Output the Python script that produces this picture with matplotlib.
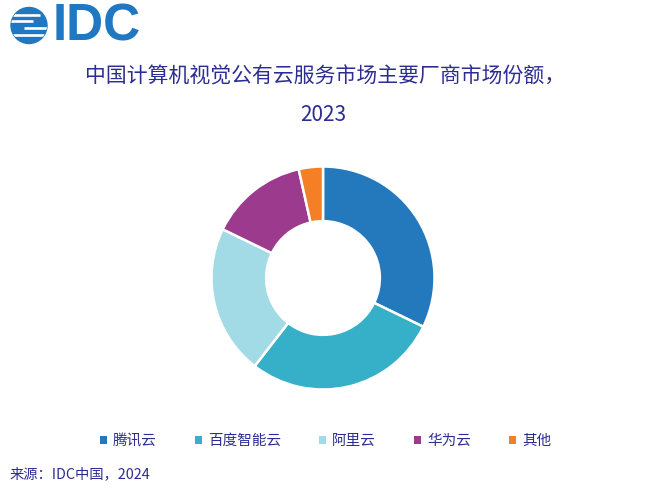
import matplotlib
matplotlib.use('Agg')
import matplotlib.pyplot as plt
from matplotlib.patches import Circle, Patch

plt.rcParams['font.family'] = ['Noto Sans CJK SC', 'DejaVu Sans']

vendors = ['腾讯云', '百度智能云', '阿里云', '华为云', '其他']
shares = [32.2, 28.3, 21.7, 14.3, 3.5]
colors = ['#2479bd', '#36afc8', '#a2dbe5', '#9c3b8d', '#f47f24']

title_line1 = '中国计算机视觉公有云服务市场主要厂商市场份额，'
title_line2 = '2023'
source = '来源：IDC中国，2024'

navy = '#2b2d92'
W, H = 647, 488

fig = plt.figure(figsize=(W / 100, H / 100), dpi=100)

# donut
cx, cy, r = 323, 278, 111.5
half = 120
ax = fig.add_axes([(cx - half) / W, (H - cy - half) / H, 2 * half / W, 2 * half / H])
ax.pie(shares, colors=colors, startangle=90, counterclock=False, radius=1,
       wedgeprops=dict(width=0.49, edgecolor='white', linewidth=1.8))
lim = half / r
ax.set_xlim(-lim, lim)
ax.set_ylim(-lim, lim)
ax.set_aspect('equal')
ax.axis('off')

# overlay in pixel coords for logo and text
ov = fig.add_axes([0, 0, 1, 1])
ov.set_xlim(0, W)
ov.set_ylim(H, 0)
ov.axis('off')

logo_blue = '#1f78c1'
globe = Circle((29, 25.5), 18, color=logo_blue)
ov.add_patch(globe)
for yy, x0, x1 in [(14.5, 10, 40), (21, 10, 33), (28, 24, 50), (35, 10, 44)]:
    ln, = ov.plot([x0, x1], [yy, yy], color='white', lw=1.9, solid_capstyle='butt')
    ln.set_clip_path(globe)
ov.text(53, 27, 'IDC', fontsize=37, fontweight='bold', color=logo_blue,
        family=['Liberation Sans', 'DejaVu Sans'], va='center', ha='left')

ov.text(W / 2 + 2, 77, title_line1, fontsize=15, color=navy, ha='center', va='center')
ov.text(W / 2, 115, title_line2, fontsize=15, color=navy, ha='center', va='center')

handles = [Patch(facecolor=c, edgecolor='none') for c in colors]
fig.legend(handles, vendors, loc='center', bbox_to_anchor=(0.5 + 2 / W, 1 - 441 / H),
           ncol=5, frameon=False, fontsize=10.5, labelcolor=navy,
           handlelength=0.5, handleheight=0.5, handletextpad=0.4,
           columnspacing=2.6)

ov.text(10, 474, source, fontsize=10.3, color=navy, ha='left', va='center')

fig.savefig('out.png', dpi=100)
